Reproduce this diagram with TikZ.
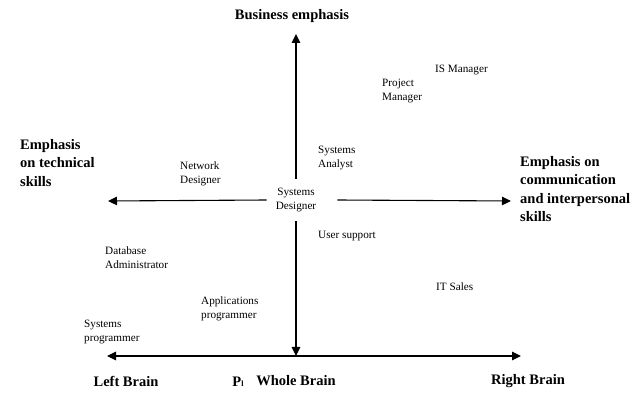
\documentclass[tikz,border=0pt]{standalone}
\usepackage{fontspec}
\setmainfont{Liberation Serif}
\usetikzlibrary{arrows.meta}
\begin{document}
\begin{tikzpicture}[x=1pt,y=-1pt]
\tikzstyle{job}=[font=\fontsize{11.2}{13.8}\selectfont,align=left,anchor=west,inner sep=0pt];
\tikzstyle{head}=[font=\fontsize{14.5}{18.5}\selectfont\bfseries,align=left,inner sep=0pt];
\tikzstyle{axis}=[line width=1.1pt,-{Triangle[length=9pt,width=8.5pt]}];
\useasboundingbox (0,0) rectangle (641,393);

\node [head] (biz) at (292,16) {Business emphasis};
\node [head,anchor=west] (tech) at (20,163) {Emphasis\\on technical\\skills};
\node [head,anchor=west] (comm) at (520,189) {Emphasis on\\communication\\and interpersonal\\skills};
\node [head] (left) at (126,381) {Left Brain};
\node [head] (whole) at (296,381) {Whole Brain};
\node [head] (right) at (528,381) {Right Brain};
\node [head] (pl) at (238,382) {P{\fontsize{8}{8}\selectfont l}};

\node [job,align=center,anchor=center,inner sep=9pt] (sd) at (296,200) {Systems\\Designer};
\node [job] (ism) at (435,70) {IS Manager};
\node [job] (pm) at (382,91) {Project\\Manager};
\node [job] (sa) at (318,158) {Systems\\Analyst};
\node [job] (nd) at (180,174) {Network\\Designer};
\node [job] (us) at (318,236) {User support};
\node [job] (dba) at (105,258) {Database\\Administrator};
\node [job] (ap) at (201,309) {Applications\\programmer};
\node [job] (sp) at (84,332) {Systems\\programmer};
\node [job] (its) at (436,287) {IT Sales};

\coordinate (top) at (296,34);
\coordinate (west) at (108,201);
\coordinate (east) at (511,201);
\coordinate (mid) at (296,356);
\coordinate (bl) at (107,356);
\coordinate (br) at (521,356);

\draw [axis] (sd.north) -- (top);
\draw [axis] (sd.west) -- (west);
\draw [axis] ([xshift=12pt]sd.east) -- (east);
\draw [axis] (sd.south) -- (mid);
\draw [line width=1.1pt,{Triangle[length=9pt,width=8.5pt]}-{Triangle[length=9pt,width=8.5pt]}] (bl) -- (br);
\end{tikzpicture}
\end{document}
